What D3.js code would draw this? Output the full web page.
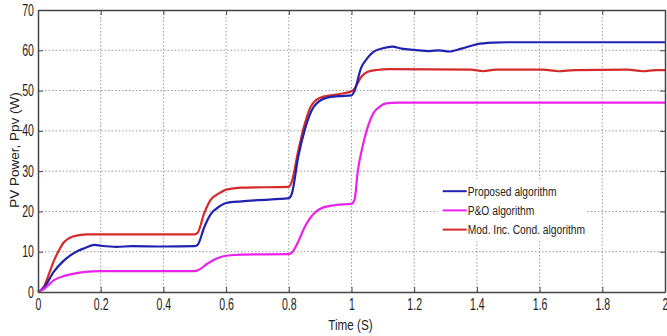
<!DOCTYPE html>
<html>
<head>
<meta charset="utf-8">
<script src="https://cdn.jsdelivr.net/npm/d3@7"></script>
<style>
  body { margin: 0; background: #fff; }
  svg { display: block; }
  .tick text { font-family: "Liberation Sans", Arial, sans-serif; font-size: 16px; fill: #222; }
</style>
</head>
<body>
<div id="chart"></div>
<script>
// Séries : [temps (s), puissance (W)]
const proposed = [
  [0, 0], [0.02, 1.2], [0.05, 5], [0.08, 7.6], [0.1, 8.9], [0.13, 10.3], [0.15, 10.9], [0.18, 11.7],
  [0.2, 11.5], [0.25, 11.2], [0.3, 11.4], [0.4, 11.3], [0.5, 11.4], [0.51, 11.8],
  [0.53, 16], [0.55, 19.2], [0.58, 21.3], [0.6, 22.1], [0.65, 22.5], [0.7, 22.8], [0.8, 23.3], [0.81, 24.5],
  [0.83, 33.5], [0.85, 40], [0.88, 46], [0.92, 48.2], [0.96, 48.6], [1.0, 48.8], [1.01, 50],
  [1.03, 55.5], [1.05, 58], [1.07, 59.6], [1.1, 60.5], [1.13, 60.9], [1.16, 60.4], [1.2, 60.1],
  [1.25, 59.8], [1.28, 60], [1.31, 59.7], [1.35, 60.4], [1.4, 61.5], [1.45, 61.9], [1.5, 62], [1.7, 62], [2.0, 62]
];
const pando = [
  [0, 0], [0.02, 0.8], [0.05, 2.9], [0.08, 3.9], [0.1, 4.3], [0.15, 5], [0.2, 5.2], [0.5, 5.2], [0.51, 5.4],
  [0.54, 7], [0.57, 8.3], [0.6, 9], [0.65, 9.3], [0.8, 9.4], [0.81, 9.8],
  [0.83, 12.5], [0.85, 16], [0.88, 19.5], [0.91, 21], [0.95, 21.6], [1.0, 21.9], [1.01, 23],
  [1.02, 30], [1.035, 36], [1.05, 40.5], [1.07, 44.4], [1.09, 46], [1.11, 46.8], [1.15, 47], [2.0, 47]
];
const modIncCond = [
  [0, 0], [0.02, 1.5], [0.035, 4.5], [0.05, 7.6], [0.07, 10.8], [0.08, 12.1], [0.1, 13.4], [0.13, 14.1],
  [0.16, 14.3], [0.5, 14.3], [0.51, 14.8], [0.53, 19.5], [0.55, 22.8], [0.58, 24.6], [0.6, 25.4],
  [0.65, 25.9], [0.8, 26.1], [0.81, 27.5], [0.83, 35], [0.85, 41.5], [0.87, 46], [0.9, 48.2],
  [0.95, 49], [1.0, 49.8], [1.01, 50.5], [1.03, 53.3], [1.05, 54.6], [1.08, 55.1], [1.12, 55.3],
  [1.38, 55.2], [1.42, 54.8], [1.46, 55.2], [1.61, 55.2], [1.66, 54.8], [1.71, 55.1],
  [1.88, 55.2], [1.93, 54.8], [1.97, 55.1], [2.0, 55.1]
];

const xTicks = [0, 0.2, 0.4, 0.6, 0.8, 1, 1.2, 1.4, 1.6, 1.8, 2];
const yTicks = [0, 10, 20, 30, 40, 50, 60, 70];

const series = [
  { name: "Mod. Inc. Cond. algorithm", values: modIncCond, color: "#d42a2a" },
  { name: "Proposed algorithm", values: proposed, color: "#1f22b0" },
  { name: "P&O algorithm", values: pando, color: "#ea22ea" }
];
const legendOrder = ["Proposed algorithm", "P&O algorithm", "Mod. Inc. Cond. algorithm"];

const width = 667, height = 336;
const margin = { top: 10, right: 2, bottom: 44, left: 38 };
const innerW = width - margin.left - margin.right;
const innerH = height - margin.top - margin.bottom;
const narrow = 0.66; // police étroite simulée

const svg = d3.select("#chart").append("svg")
  .attr("width", width)
  .attr("height", height);

const g = svg.append("g").attr("transform", `translate(${margin.left},${margin.top})`);

const x = d3.scaleLinear().domain([0, 2]).range([0, innerW]);
const y = d3.scaleLinear().domain([0, 70]).range([innerH, 0]);

// grille pointillée
g.append("g").selectAll("line").data(xTicks.slice(1, -1)).join("line")
  .attr("x1", d => x(d)).attr("x2", d => x(d))
  .attr("y1", 0).attr("y2", innerH)
  .attr("stroke", "#999").attr("stroke-width", 1).attr("stroke-dasharray", "1.5,2");
g.append("g").selectAll("line").data(yTicks.slice(1, -1)).join("line")
  .attr("x1", 0).attr("x2", innerW)
  .attr("y1", d => y(d)).attr("y2", d => y(d))
  .attr("stroke", "#999").attr("stroke-width", 1).attr("stroke-dasharray", "1.5,2");

// courbes
const line = d3.line()
  .x(d => x(d[0]))
  .y(d => y(d[1]))
  .curve(d3.curveMonotoneX);

series.forEach(s => {
  g.append("path")
    .datum(s.values)
    .attr("fill", "none")
    .attr("stroke", s.color)
    .attr("stroke-width", 2.2)
    .attr("stroke-linejoin", "round")
    .attr("d", line);
});

// axes (ticks vers l'intérieur)
const xAxis = g.append("g").attr("transform", `translate(0,${innerH})`)
  .call(d3.axisBottom(x).tickValues(xTicks).tickFormat(d3.format("")).tickSizeInner(-5).tickSizeOuter(0).tickPadding(7));
const xTop = g.append("g")
  .call(d3.axisTop(x).tickValues(xTicks).tickFormat("").tickSizeInner(-5).tickSizeOuter(0));
const yAxis = g.append("g")
  .call(d3.axisLeft(y).tickValues(yTicks).tickSizeInner(-5).tickSizeOuter(0).tickPadding(4));
const yRight = g.append("g").attr("transform", `translate(${innerW},0)`)
  .call(d3.axisRight(y).tickValues(yTicks).tickFormat("").tickSizeInner(-5).tickSizeOuter(0));

xAxis.selectAll(".tick text")
  .attr("transform", `scale(${narrow},1)`);
yAxis.selectAll(".tick text")
  .attr("x", null)
  .attr("transform", `translate(-4,0) scale(${narrow},1)`);

[xAxis, xTop, yAxis, yRight].forEach(a => {
  a.select(".domain").attr("stroke", "#444").attr("stroke-width", 1.5);
  a.selectAll(".tick line").attr("stroke", "#444");
});

// légende
const legend = g.append("g").attr("transform", `translate(${x(1.275)},${y(28)})`);
legend.append("rect")
  .attr("x", 0).attr("y", 0).attr("width", 148).attr("height", 62)
  .attr("fill", "#fff");
legendOrder.forEach((name, i) => {
  const s = series.find(d => d.name === name);
  const row = legend.append("g").attr("transform", `translate(0,${12 + i * 19.2})`);
  row.append("line")
    .attr("x1", 5).attr("x2", 29).attr("y1", 0).attr("y2", 0)
    .attr("stroke", s.color).attr("stroke-width", 2);
  row.append("text")
    .attr("transform", "translate(30,0) scale(0.76,1)")
    .attr("dy", "0.35em")
    .attr("font-family", "'Liberation Sans', Arial, sans-serif")
    .attr("font-size", 13.5)
    .attr("fill", "#222")
    .text(name);
});

// titres d'axes
svg.append("text")
  .attr("transform", `translate(${margin.left + x(1) - 1},330) scale(0.78,1)`)
  .attr("text-anchor", "middle")
  .attr("font-family", "'Liberation Sans', Arial, sans-serif")
  .attr("font-size", 15)
  .attr("fill", "#222")
  .text("Time (S)");

svg.append("text")
  .attr("transform", `translate(19,150) rotate(-90)`)
  .attr("text-anchor", "middle")
  .attr("font-family", "'Liberation Sans', Arial, sans-serif")
  .attr("font-size", 13.5)
  .attr("fill", "#222")
  .text("PV Power, Ppv (W)");
</script>
</body>
</html>
